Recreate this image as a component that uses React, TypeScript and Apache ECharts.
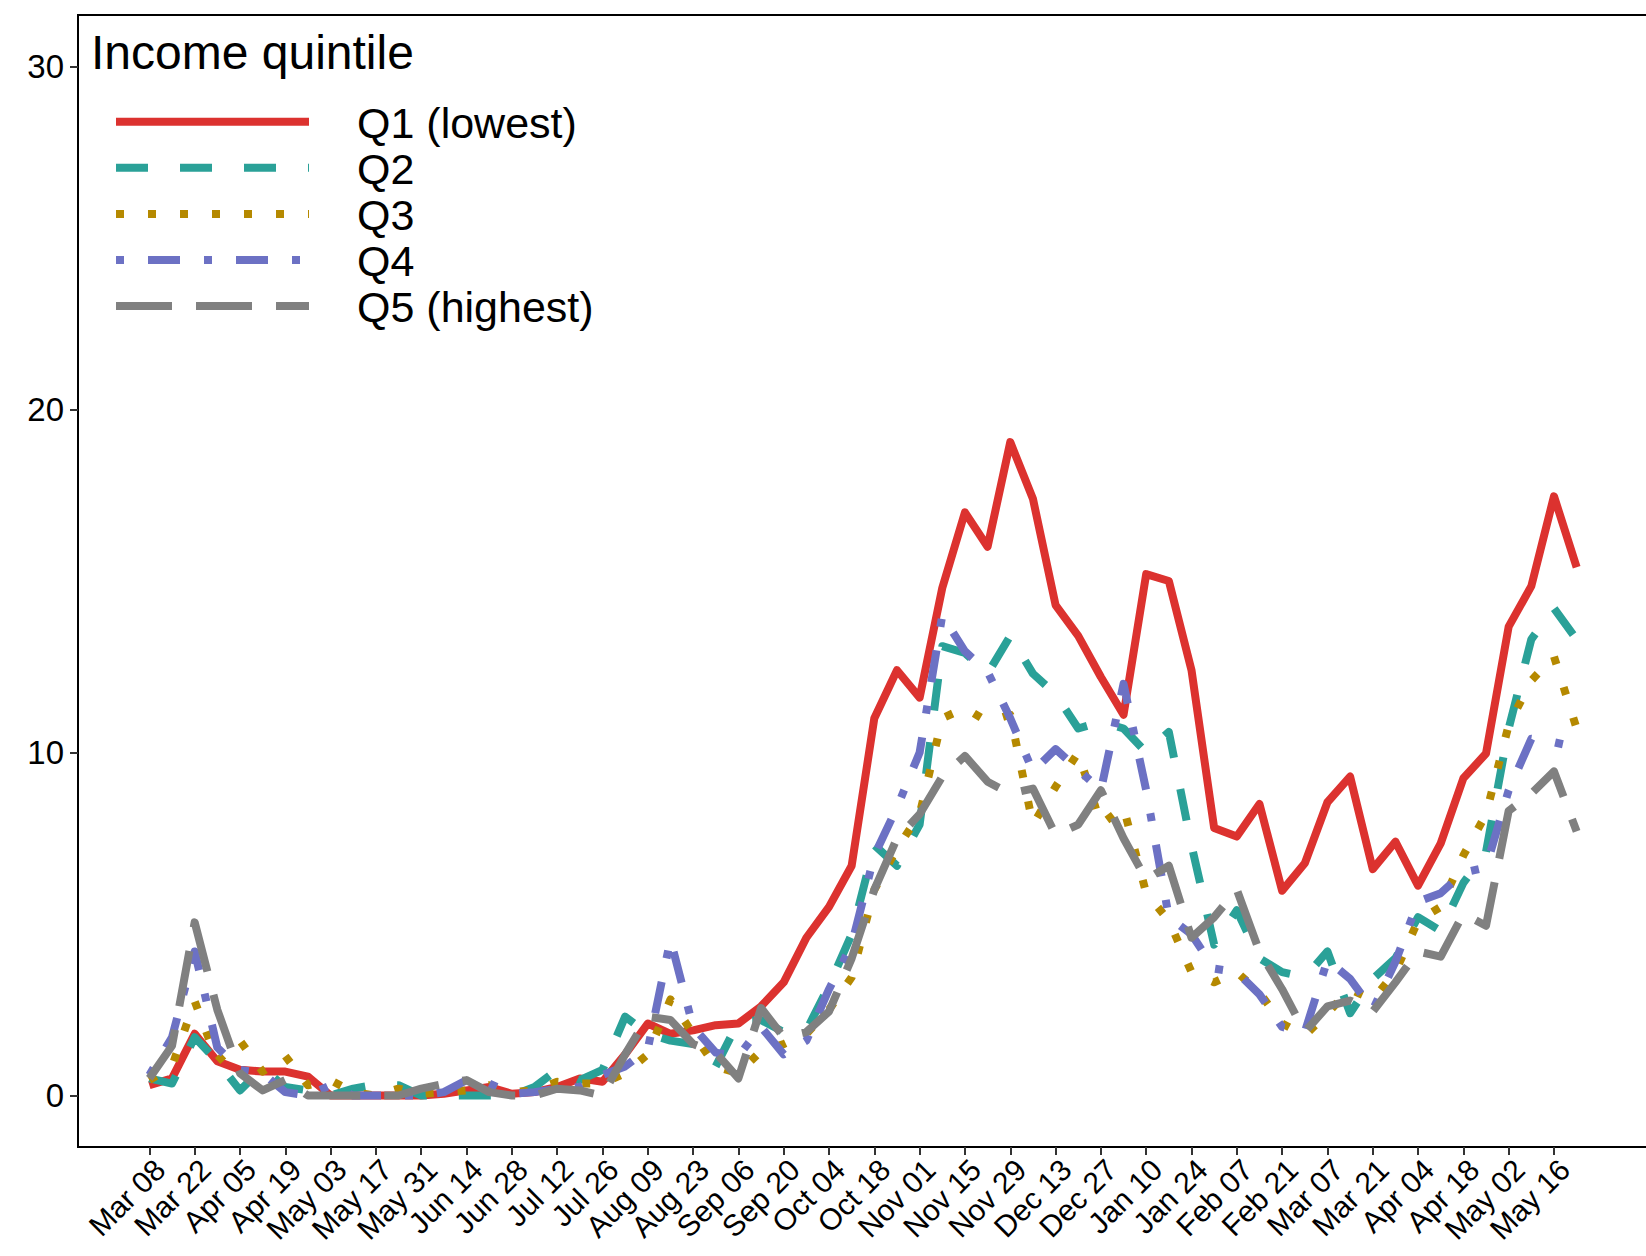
import React, { useEffect, useRef } from "react";
import * as echarts from "echarts";

// ---- data ----
const tickLabels = [
  "Mar 08", "Mar 22", "Apr 05", "Apr 19", "May 03", "May 17", "May 31", "Jun 14",
  "Jun 28", "Jul 12", "Jul 26", "Aug 09", "Aug 23", "Sep 06", "Sep 20", "Oct 04",
  "Oct 18", "Nov 01", "Nov 15", "Nov 29", "Dec 13", "Dec 27", "Jan 10", "Jan 24",
  "Feb 07", "Feb 21", "Mar 07", "Mar 21", "Apr 04", "Apr 18", "May 02", "May 16",
];
const yTicks = [0, 10, 20, 30];

const seriesNames = ["Q1 (lowest)", "Q2", "Q3", "Q4", "Q5 (highest)"];
const seriesColors = ["#DC322F", "#2AA198", "#B58900", "#6C71C4", "#808080"];
const seriesDash: (number[] | "solid")[] = ["solid", [32, 32], [8, 24], [8, 24, 32, 24], [56, 24]];

const q1 = [
  0.3, 0.5, 1.8, 1.0, 0.75, 0.7, 0.7, 0.55, 0, 0, 0, 0, 0, 0.05, 0.15, 0.25,
  0.05, 0.1, 0.25, 0.5, 0.4, 1.2, 2.1, 1.8, 1.9, 2.05, 2.1, 2.6, 3.3, 4.6, 5.5, 6.7,
  11.0, 12.4, 11.6, 14.8, 17.0, 16.0, 19.05, 17.4, 14.3, 13.4, 12.2, 11.1, 15.2, 15.0, 12.4, 7.8,
  7.55, 8.5, 5.97, 6.77, 8.55, 9.3, 6.6, 7.4, 6.12, 7.35, 9.25, 9.97, 13.67, 14.85, 17.47, 15.4,
];
const q2 = [
  0.5, 0.35, 1.7, 1.0, 0.15, 0.8, 0.25, 0.15, 0, 0.2, 0.32, 0.3, 0, 0, 0, 0,
  0, 0.25, 0.75, 0.45, 0.75, 2.3, 1.8, 1.6, 1.5, 0.85, 2.15, 2.2, 1.85, 1.9, 3.2, 4.7,
  7.3, 6.7, 7.9, 13.1, 12.9, 12.3, 13.4, 12.3, 11.7, 10.7, 10.9, 10.7, 10.0, 10.6, 7.3, 4.4,
  5.4, 4.0, 3.6, 3.45, 4.2, 2.4, 3.4, 4.0, 5.2, 4.8, 6.2, 7.1, 10.7, 13.3, 14.2, 13.3,
];
const q3 = [
  0.45, 0.85, 2.75, 1.0, 1.6, 0.7, 1.15, 0.3, 0.45, 0.1, 0.0, 0.2, 0.05, 0.1, 0.15, 0.3,
  0.1, 0.15, 0.4, 0.35, 0.35, 0.65, 1.2, 2.8, 1.8, 0.85, 0.65, 1.3, 1.5, 1.8, 2.5, 3.45,
  6.0, 7.2, 8.2, 11.0, 11.3, 10.9, 11.1, 7.9, 9.0, 10.0, 7.9, 8.4, 5.9, 5.1, 3.6, 3.3,
  3.6, 3.0, 2.1, 1.75, 2.4, 3.1, 2.8, 3.6, 5.1, 5.5, 7.0, 8.2, 10.8, 12.1, 12.8, 10.7,
];
const q4 = [
  0.6, 1.7, 4.2, 1.4, 0.75, 0.65, 0.1, 0.0, 0.3, 0, 0, 0, 0, 0.1, 0.45, 0.35,
  0.05, 0.1, 0.2, 0.25, 0.6, 0.85, 1.35, 4.55, 2.0, 1.25, 1.15, 2.0, 1.2, 1.6, 3.1, 4.4,
  7.0, 8.4, 10.0, 14.0, 12.95, 12.35, 11.0, 9.45, 10.1, 9.5, 8.9, 12.0, 8.9, 5.2, 4.7, 3.7,
  3.6, 2.95, 2.0, 1.85, 3.95, 3.4, 2.5, 3.9, 5.65, 5.9, 6.5, 6.65, 8.9, 10.4, 10.3, 10.15,
];
const q5 = [
  0.5, 1.45, 5.05, 2.5, 0.65, 0.15, 0.45, 0.0, 0, 0, 0, 0, 0.2, 0.34, 0.45, 0.1,
  0, 0, 0.2, 0.15, 0.0, 1.2, 2.3, 2.2, 1.5, 1.25, 0.5, 2.55, 1.7, 1.85, 2.45, 4.0,
  6.0, 7.5, 8.2, 9.3, 9.9, 9.15, 8.8, 8.95, 7.6, 7.9, 8.9, 7.5, 6.3, 6.7, 4.6, 5.2,
  6.0, 4.2, 3.1, 1.85, 2.6, 2.77, 2.45, 3.3, 4.2, 4.05, 5.3, 4.95, 8.3, 8.8, 9.45, 7.7,
];
const seriesValues = [q1, q2, q3, q4, q5];

const FONT = '"Liberation Sans", Arial, Helvetica, sans-serif';

export default function App() {
  const ref = useRef<HTMLDivElement>(null);

  useEffect(() => {
    if (!ref.current) return;
    const chart = echarts.init(ref.current, null, { renderer: "svg" });

    const tickVals = tickLabels.map((_, k) => k * 2);

    const legendTop = 121.7;
    const legendStep = 46.1;
    const legendGraphics: any[] = [
      {
        type: "text",
        x: 91,
        y: 52,
        style: {
          text: "Income quintile",
          font: `48px ${FONT}`,
          fill: "#000",
          align: "left",
          verticalAlign: "middle",
          textAlign: "left",
          textVerticalAlign: "middle",
        },
      },
    ];
    seriesNames.forEach((name, k) => {
      const y = legendTop + k * legendStep;
      const dash = seriesDash[k];
      legendGraphics.push({
        type: "line",
        shape: { x1: 116, y1: y, x2: 309, y2: y },
        style: {
          stroke: seriesColors[k],
          lineWidth: 8,
          lineDash: dash === "solid" ? null : dash,
          lineCap: "butt",
        },
      });
      legendGraphics.push({
        type: "text",
        x: 357,
        y: y + 1,
        style: {
          text: name,
          font: `43px ${FONT}`,
          fill: "#000",
          align: "left",
          verticalAlign: "middle",
          textAlign: "left",
          textVerticalAlign: "middle",
        },
      });
    });

    chart.setOption({
      animation: false,
      backgroundColor: "#ffffff",
      grid: {
        left: 78,
        top: 15,
        width: 1570,
        height: 1132,
        containLabel: false,
        outerBoundsMode: "none",
        show: true,
        borderColor: "#000",
        borderWidth: 2,
        backgroundColor: "transparent",
      },
      xAxis: {
        type: "value",
        min: -3.15,
        max: 66.15,
        axisLine: { show: false, onZero: false },
        splitLine: { show: false },
        axisTick: {
          show: true,
          customValues: tickVals,
          length: 8,
          lineStyle: { color: "#333", width: 2 },
        },
        axisLabel: {
          customValues: tickVals,
          formatter: (v: number) => tickLabels[Math.round(v / 2)] ?? "",
          rotate: 45,
          align: "right",
          verticalAlign: "top",
          margin: 7,
          fontSize: 30,
          fontFamily: FONT,
          color: "#000",
        },
      },
      yAxis: {
        type: "value",
        min: -1.5,
        max: 31.5,
        axisLine: { show: false, onZero: false },
        splitLine: { show: false },
        axisTick: {
          show: true,
          customValues: yTicks,
          length: 8,
          lineStyle: { color: "#333", width: 2 },
        },
        axisLabel: {
          customValues: yTicks,
          margin: 14,
          fontSize: 33,
          fontFamily: FONT,
          color: "#000",
        },
      },
      series: seriesNames.map((name, k) => ({
        name,
        type: "line",
        data: seriesValues[k].map((v, i) => [i, v]),
        symbol: "none",
        showSymbol: false,
        silent: true,
        lineStyle: {
          color: seriesColors[k],
          width: 8,
          type: seriesDash[k],
          cap: "butt",
          join: "round",
        },
      })),
      graphic: legendGraphics,
    });

    return () => chart.dispose();
  }, []);

  return (
    <div
      ref={ref}
      style={{ position: "absolute", left: 0, top: 0, width: 1646, height: 1256 }}
    />
  );
}
